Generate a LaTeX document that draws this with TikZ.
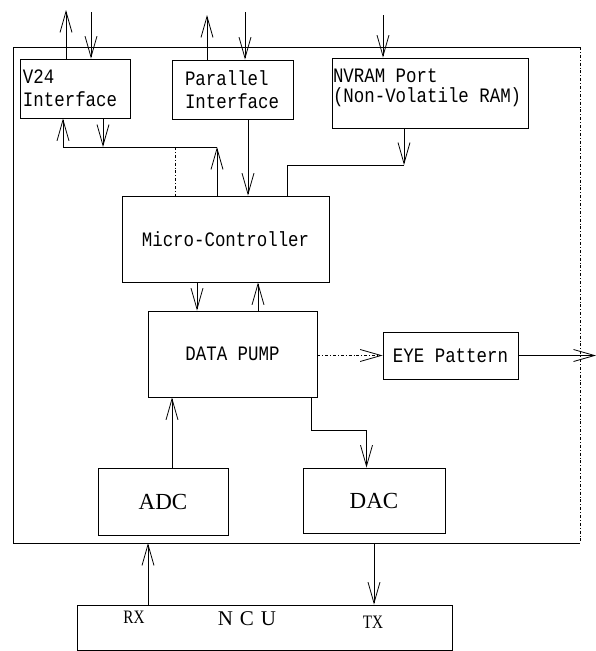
\documentclass[tikz,border=0pt]{standalone}
\usepackage{fontspec}
\setmainfont{Liberation Serif}
\setmonofont[FakeStretch=0.85]{Liberation Mono}
\newfontfamily\narrowserif[FakeStretch=0.8]{Liberation Serif}
\usetikzlibrary{arrows.meta}

\begin{document}
\begin{tikzpicture}[x=1pt,y=-1pt,line width=0.8pt,
  blk/.style={rectangle,draw,inner sep=3pt,font=\ttfamily\fontsize{20.5}{23}\selectfont},
  big/.style={font=\fontsize{23}{26}\selectfont},
  lbl/.style={font=\narrowserif\fontsize{19}{22}\selectfont},
  arr/.style={-{Straight Barb[length=21pt,width=12pt]}}]
\useasboundingbox (0,0) rectangle (596,651);

%%% Modem board corners
\coordinate (ModemNW) at (13,47);
\coordinate (ModemNE) at (580,47);
\coordinate (ModemSW) at (13,543);
\coordinate (ModemSE) at (580,543);

%%% free ends of the external lines
\coordinate (v24out) at (66,10);
\coordinate (v24in) at (91,12);
\coordinate (parout) at (207,15);
\coordinate (parin) at (245,12);
\coordinate (nvramin) at (383,15);
\coordinate (eyeout) at (596,353);

%%% local bus under V24
\coordinate (busL) at (63,147);
\coordinate (busTap) at (103,147);
\coordinate (busDot) at (175,147);
\coordinate (busR) at (217,147);
\coordinate (nvramjoin) at (404,165);

%%Board
\draw (ModemNE) -- (ModemNW) -- (ModemSW) -- (ModemSE);
\draw[dash dot] (ModemNE) -- (ModemSE);

%%Blocks
\node[blk,minimum width=110pt,minimum height=59pt,text width=104pt,align=left] (v24) at (75,88.5) {V24\\Interface};
\node[blk,minimum width=121pt,minimum height=59pt,text width=95pt,align=left] (par) at (232.5,89.5) {Parallel\\Interface};
\node[blk,minimum width=196pt,minimum height=70pt] (nvram) at (430,93) {};
\node[anchor=north west,inner sep=0pt,align=left,font=\ttfamily\fontsize{20.5}{20}\selectfont] (nvramtxt) at ([shift={(1pt,-10.5pt)}]nvram.north west) {NVRAM Port\\(Non-Volatile RAM)};
\node[blk,minimum width=207pt,minimum height=86pt] (mcu) at (225.5,239) {Micro-Controller};
\node[blk,minimum width=169pt,minimum height=86pt] (pump) at (232.5,354) {DATA PUMP};
\node[blk,minimum width=135pt,minimum height=47pt] (eye) at (450.5,355.5) {EYE Pattern};
\node[blk,big,minimum width=130pt,minimum height=67pt] (adc) at (163,501.5) {ADC};
\node[blk,big,minimum width=142pt,minimum height=65pt] (dac) at (374,500.5) {DAC};
\node[blk,minimum width=375pt,minimum height=45pt] (ncu) at (264.5,627.5) {};
\node[lbl] (rx) at (134,617) {RX};
\node[font=\fontsize{21}{24}\selectfont] (ncutxt) at (247,619) {N\hspace{7pt}C\hspace{7pt}U};
\node[lbl] (tx) at (373,622) {TX};

%%External lines
\draw[arr] (v24.north -| v24out) -- (v24out);
\draw[arr] (v24in) -- (v24.north -| v24in);
\draw[arr] (par.north -| parout) -- (parout);
\draw[arr] (parin) -- (par.north -| parin);
\draw[arr] (nvramin) -- (nvram.north -| nvramin);

%%V24 bus
\draw (busL) -- (busR);
\draw[arr] (busL) -- (v24.south -| busL);
\draw[arr] (v24.south -| busTap) -- (busTap);
\draw[arr] (mcu.north -| busR) -- (busR);
\draw[dash dot,line width=0.5pt] (busDot) -- (mcu.north -| busDot);

%%Parallel and NVRAM to controller
\draw[arr] ([xshift=15.5pt]par.south) -- ([xshift=15.5pt]par.south |- mcu.north);
\draw[arr] (nvram.south -| nvramjoin) -- (nvramjoin);
\draw (nvramjoin) -| ([xshift=61.5pt]mcu.north);

%%Controller and data pump
\draw[arr] ([xshift=-28.5pt]mcu.south) -- ([xshift=-28.5pt]mcu.south |- pump.north);
\draw[arr] ([xshift=25.5pt]pump.north) -- ([xshift=25.5pt]pump.north |- mcu.south);
\draw[arr,dash dot] (pump.east |- eye.west) -- (eye.west);
\draw[arr] (eye.east) -- (eye.east -| eyeout);

%%Converters
\draw[arr] ([xshift=9pt]adc.north) -- ([xshift=9pt]adc.north |- pump.south);
\draw[arr] ([xshift=78.5pt]pump.south) -- ++(0,33) -| ([xshift=-7.5pt]dac.north);

%%Line interface
\draw[arr] ([xshift=-116.5pt]ncu.north) -- ([xshift=-116.5pt]ncu.north |- ModemSE);
\draw[arr] (dac.south |- ModemSE) -- (dac.south |- ncu.north);

\end{tikzpicture}
\end{document}
